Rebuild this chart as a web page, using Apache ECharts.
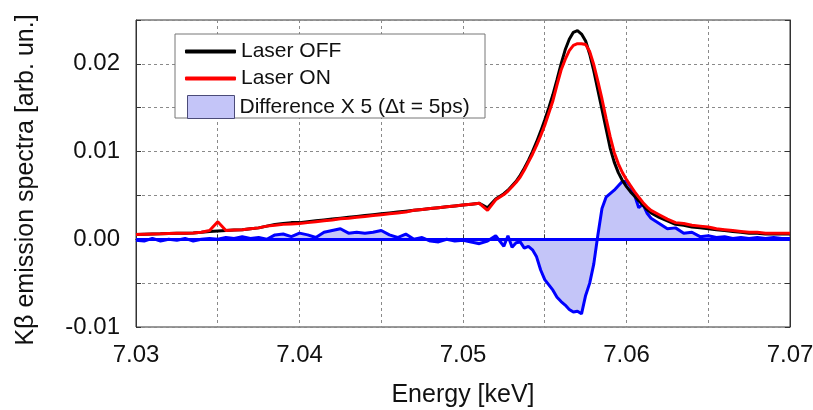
<!DOCTYPE html>
<html>
<head>
<meta charset="utf-8">
<script src="https://cdn.jsdelivr.net/npm/echarts@6/dist/echarts.min.js"></script>
<style>html,body{margin:0;padding:0;background:#fff}#c{width:813px;height:410px}</style>
</head>
<body>
<div id="c"></div>
<script>
const energy = [7.0300,7.0305,7.0310,7.0315,7.0320,7.0325,7.0330,7.0335,7.0340,7.0345,
7.0350,7.0355,7.0360,7.0365,7.0370,7.0375,7.0380,7.0385,7.0390,7.0395,
7.0400,7.0405,7.0410,7.0415,7.0420,7.0425,7.0430,7.0435,7.0440,7.0445,
7.0450,7.0455,7.0460,7.0465,7.0470,7.0475,7.0480,7.0485,7.0490,7.0495,
7.0500,7.0505,7.0510,7.0515,7.0520,
7.05250,7.05275,7.05300,7.05325,7.05350,7.05375,7.05400,7.05425,7.05450,7.05475,
7.05500,7.05525,7.05550,7.05575,7.05600,7.05625,7.05650,7.05675,7.05700,7.05725,
7.05750,7.05775,7.05800,7.05825,7.05850,7.05875,7.05900,7.05925,7.05950,7.05975,
7.06000,7.06025,7.06050,7.06075,7.06100,7.06125,7.06150,
7.0620,7.0625,7.0630,7.0635,7.0640,7.0645,7.0650,7.0655,7.0660,7.0665,
7.0670,7.0675,7.0680,7.0685,7.0690,7.0695,7.0700];

const laserOn = [0.00054,0.00058,0.0006,0.00062,0.00065,0.00068,0.0007,0.00072,0.0008,0.001,
0.0020,0.0010,0.00105,0.0011,0.0012,0.0013,0.0015,0.0016,0.0017,0.00175,
0.0018,0.0019,0.0020,0.0021,0.0022,0.00235,0.0024,0.0025,0.0026,0.0027,
0.0028,0.0029,0.0030,0.0031,0.0033,0.0034,0.0035,0.0036,0.0037,0.0038,
0.0039,0.0040,0.0041,0.0033,0.0045,
0.0051,0.0055,0.0060,0.0065,0.0071,0.0079,0.0088,0.0097,0.0107,0.0118,
0.0130,0.0144,0.0158,0.0176,0.0193,0.0205,0.0215,0.0221,0.0223,0.0223,
0.0222,0.0214,0.0199,0.0180,0.0160,0.0138,0.0117,0.0099,0.0086,0.0076,
0.0068,0.0061,0.0054,0.0048,0.0042,0.0037,0.0033,
0.0028,0.0023,0.0019,0.0018,0.0016,0.0015,0.0014,0.0012,0.0011,0.0010,
0.0009,0.0008,0.0008,0.0007,0.0007,0.0007,0.0007];

const laserOff = [0.00054,0.00058,0.0006,0.00062,0.00065,0.00068,0.0007,0.00072,0.0008,0.0009,
0.00095,0.001,0.00105,0.0011,0.0012,0.0013,0.0015,0.0017,0.0018,0.0019,
0.0019,0.002,0.0021,0.0022,0.0023,0.0024,0.0025,0.0026,0.0027,0.0028,
0.0029,0.003,0.0031,0.0032,0.0033,0.0034,0.0035,0.0036,0.0037,0.0038,
0.0039,0.0040,0.0041,0.0036,0.0046,
0.0052,0.0056,0.0061,0.0066,0.0073,0.0081,0.0090,0.0100,0.0111,0.0123,
0.0136,0.0150,0.0165,0.0182,0.0200,0.0216,0.0228,0.0236,0.0238,0.0234,
0.0226,0.0211,0.0192,0.0170,0.0148,0.0126,0.0104,0.0088,0.0076,0.0067,
0.0060,0.0054,0.0049,0.0044,0.0039,0.0034,0.0030,
0.0025,0.0021,0.0017,0.0016,0.0014,0.0013,0.0012,0.0011,0.0010,0.0009,
0.0008,0.0007,0.0007,0.0006,0.0006,0.0006,0.0006];

const difference = [-0.0001,-0.0002,0.0001,-0.0002,0.0,-0.0001,0.0001,-0.0002,0.0,0.0001,
0.0,0.0002,0.0001,0.0003,0.0001,0.0002,0.0,0.0005,0.0006,0.0003,
0.0007,0.0005,0.0002,0.0008,0.0010,0.0012,0.0007,0.0008,0.0007,0.0008,
0.0010,0.0005,0.0002,0.0006,0.0,0.0002,-0.0002,-0.0003,0.0,-0.0002,
-0.0001,-0.0003,-0.0005,-0.0002,0.0004,
-0.0008,0.0004,-0.0009,-0.0004,-0.0003,-0.0010,-0.0008,-0.0012,-0.0020,-0.0035,
-0.0046,-0.0052,-0.0058,-0.0066,-0.0071,-0.0075,-0.0080,-0.0083,-0.0082,-0.0085,
-0.0064,-0.0050,-0.0028,0.0005,0.0035,0.0048,0.0052,0.0056,0.0061,0.0066,
0.0066,0.0060,0.0050,0.0036,0.0040,0.0030,0.0024,
0.0018,0.0012,0.0013,0.0007,0.0008,0.0003,0.0004,0.0002,0.0003,0.0001,
0.0002,0.0001,0.0002,0.0001,0.0002,0.0001,0.0001];

const xTicks = [7.03, 7.04, 7.05, 7.06, 7.07];
const yTicks = [-0.01, 0.00, 0.01, 0.02];

const zip = (xs, ys) => xs.map((x, i) => [x, ys[i]]);
const isMajor = (v, list) => list.some(t => Math.abs(t - v) < 1e-9);

const font = 'Liberation Sans, Arial, sans-serif';
const gridLine = { show: true, lineStyle: { color: '#8a8a8a', type: [3, 3], width: 1 } };

const chart = echarts.init(document.getElementById('c'));
chart.setOption({
  animation: false,
  backgroundColor: '#fff',
  grid: { left: 136, right: 23, top: 20, bottom: 83, outerBoundsMode: 'none', containLabel: false,
    show: true, borderColor: '#333', borderWidth: 1 },
  xAxis: [{
    type: 'value', min: 7.03, max: 7.07, interval: 0.005,
    axisLine: { lineStyle: { color: '#333', width: 1 } },
    axisTick: { inside: true, length: 5, lineStyle: { color: '#333' } },
    splitLine: gridLine,
    axisLabel: { color: '#111', fontSize: 24, fontFamily: font, margin: 16,
      formatter: v => isMajor(v, xTicks) ? v.toFixed(2) : '' },
    name: 'Energy [keV]', nameLocation: 'middle', nameGap: 56,
    nameTextStyle: { color: '#111', fontSize: 25, fontFamily: font }
  }, {
    type: 'value', position: 'top', min: 7.03, max: 7.07, interval: 0.005,
    axisLine: { show: true, lineStyle: { color: '#333' } },
    axisTick: { show: true, inside: true, length: 5, lineStyle: { color: '#333' } },
    axisLabel: { show: false }, splitLine: { show: false }
  }],
  yAxis: [{
    type: 'value', min: -0.01, max: 0.025, interval: 0.005,
    axisLine: { show: true, lineStyle: { color: '#333', width: 1 } },
    axisTick: { show: true, inside: true, length: 5, lineStyle: { color: '#333' } },
    splitLine: gridLine,
    axisLabel: { color: '#111', fontSize: 24, fontFamily: font, margin: 16,
      formatter: v => isMajor(v, yTicks) ? v.toFixed(2) : '' },
    name: 'Kβ emission spectra [arb. un.]', nameLocation: 'middle', nameGap: 97,
    nameTextStyle: { color: '#111', fontSize: 25, fontFamily: font, padding: [0, 13, 0, 0] }
  }, {
    type: 'value', position: 'right', min: -0.01, max: 0.025, interval: 0.005,
    axisLine: { show: true, lineStyle: { color: '#333' } },
    axisTick: { show: true, inside: true, length: 5, lineStyle: { color: '#333' } },
    axisLabel: { show: false }, splitLine: { show: false }
  }],
  graphic: [{
    type: 'rect', z: 3, shape: { x: 175, y: 34, width: 310, height: 84 },
    style: { fill: '#fff', stroke: '#777', lineWidth: 1 }
  }],
  legend: [{
    data: [{ name: 'Laser OFF' }, { name: 'Laser ON' }],
    orient: 'vertical', left: 185, top: 41, padding: 0, itemGap: 6,
    itemWidth: 51, itemHeight: 4, icon: 'roundRect', z: 5,
    textStyle: { color: '#111', fontSize: 21, fontFamily: font },
    selectedMode: false
  }, {
    data: [{ name: 'Difference X 5 (Δt = 5ps)', icon: 'rect',
      itemStyle: { color: '#c4c5f8', borderColor: '#4b4b78', borderWidth: 1 } }],
    orient: 'vertical', left: 187, top: 95, padding: 0,
    itemWidth: 47, itemHeight: 23, z: 5,
    textStyle: { color: '#111', fontSize: 21, fontFamily: font },
    selectedMode: false
  }],
  series: [{
    name: 'Difference X 5 (Δt = 5ps)', type: 'line', symbol: 'none',
    data: zip(energy, difference),
    lineStyle: { color: '#0000ff', width: 3 },
    itemStyle: { color: '#0000ff' },
    areaStyle: { color: '#c4c5f8', opacity: 1, origin: 0 },
    markLine: { silent: true, symbol: 'none', label: { show: false },
      lineStyle: { color: '#0000ff', width: 3, type: 'solid' },
      data: [{ yAxis: 0 }] },
    z: 2
  }, {
    name: 'Laser OFF', type: 'line', symbol: 'none',
    data: zip(energy, laserOff),
    lineStyle: { color: '#000', width: 3 }, itemStyle: { color: '#000' }, z: 3
  }, {
    name: 'Laser ON', type: 'line', symbol: 'none',
    data: zip(energy, laserOn),
    lineStyle: { color: '#ff0000', width: 3 }, itemStyle: { color: '#ff0000' }, z: 4
  }]
});
</script>
</body>
</html>
